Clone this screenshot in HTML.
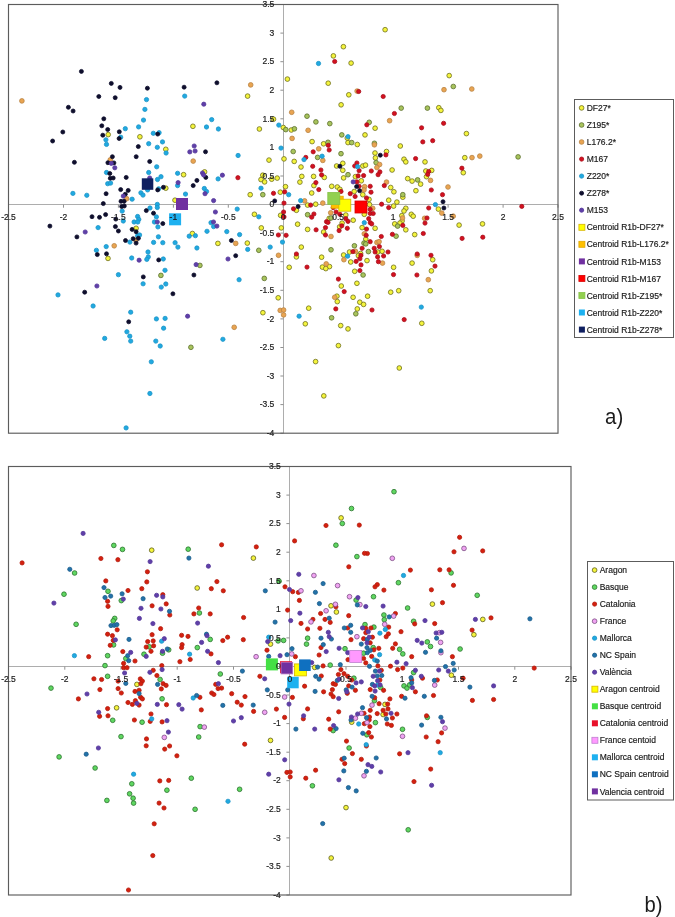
<!DOCTYPE html>
<html><head><meta charset="utf-8"><title>Figure</title>
<style>
html,body{margin:0;padding:0;background:#fff;}
body{width:675px;height:917px;overflow:hidden;}
svg{display:block;}
text{font-family:"Liberation Sans",sans-serif;fill:#1c1c1c;}
.tk text,.lg text{stroke:#1c1c1c;stroke-width:0.18px;}
.tk text{font-size:8.5px;}
.lg text{font-size:8.5px;}
.big{font-size:21.5px;}
</style></head><body>
<svg width="675" height="917" viewBox="0 0 675 917">
<rect width="675" height="917" fill="#fff"/>

<g id="plot-a">
<g stroke="#909090" stroke-width="1" fill="none">
<line x1="8.5" y1="204.5" x2="558" y2="204.5" stroke="#adadad"/>
<line x1="283.5" y1="4.5" x2="283.5" y2="433.2" stroke="#adadad"/>
<line x1="8.5" y1="204.5" x2="8.5" y2="207.7"/>
<line x1="63.5" y1="204.5" x2="63.5" y2="207.7"/>
<line x1="118.4" y1="204.5" x2="118.4" y2="207.7"/>
<line x1="173.4" y1="204.5" x2="173.4" y2="207.7"/>
<line x1="228.3" y1="204.5" x2="228.3" y2="207.7"/>
<line x1="283.2" y1="204.5" x2="283.2" y2="207.7"/>
<line x1="338.2" y1="204.5" x2="338.2" y2="207.7"/>
<line x1="393.2" y1="204.5" x2="393.2" y2="207.7"/>
<line x1="448.1" y1="204.5" x2="448.1" y2="207.7"/>
<line x1="503.1" y1="204.5" x2="503.1" y2="207.7"/>
<line x1="558.0" y1="204.5" x2="558.0" y2="207.7"/>
<line x1="280.4" y1="4.5" x2="283.5" y2="4.5"/>
<line x1="280.4" y1="33.1" x2="283.5" y2="33.1"/>
<line x1="280.4" y1="61.7" x2="283.5" y2="61.7"/>
<line x1="280.4" y1="90.2" x2="283.5" y2="90.2"/>
<line x1="280.4" y1="118.8" x2="283.5" y2="118.8"/>
<line x1="280.4" y1="147.4" x2="283.5" y2="147.4"/>
<line x1="280.4" y1="176.0" x2="283.5" y2="176.0"/>
<line x1="280.4" y1="204.6" x2="283.5" y2="204.6"/>
<line x1="280.4" y1="233.1" x2="283.5" y2="233.1"/>
<line x1="280.4" y1="261.7" x2="283.5" y2="261.7"/>
<line x1="280.4" y1="290.3" x2="283.5" y2="290.3"/>
<line x1="280.4" y1="318.9" x2="283.5" y2="318.9"/>
<line x1="280.4" y1="347.5" x2="283.5" y2="347.5"/>
<line x1="280.4" y1="376.0" x2="283.5" y2="376.0"/>
<line x1="280.4" y1="404.6" x2="283.5" y2="404.6"/>
<line x1="280.4" y1="433.2" x2="283.5" y2="433.2"/>
</g>
<g fill="#f4f43c" stroke="#6e6e1e" stroke-width="0.8">
<circle cx="247.6" cy="96.1" r="2.35"/>
<circle cx="287.4" cy="79.1" r="2.35"/>
<circle cx="385.1" cy="29.7" r="2.35"/>
<circle cx="343.4" cy="46.7" r="2.35"/>
<circle cx="333.4" cy="55.9" r="2.35"/>
<circle cx="351.1" cy="63.1" r="2.35"/>
<circle cx="328.2" cy="83.2" r="2.35"/>
<circle cx="348.8" cy="94.8" r="2.35"/>
<circle cx="341.1" cy="104.8" r="2.35"/>
<circle cx="449.2" cy="75.6" r="2.35"/>
<circle cx="438.8" cy="107.7" r="2.35"/>
<circle cx="440.9" cy="110.4" r="2.35"/>
<circle cx="108.2" cy="134.6" r="2.35"/>
<circle cx="139.9" cy="136.8" r="2.35"/>
<circle cx="192.9" cy="126.3" r="2.35"/>
<circle cx="165.8" cy="149.3" r="2.35"/>
<circle cx="183.6" cy="174.7" r="2.35"/>
<circle cx="204.6" cy="171.9" r="2.35"/>
<circle cx="165.8" cy="188.2" r="2.35"/>
<circle cx="273.5" cy="119.2" r="2.35"/>
<circle cx="283.3" cy="127.5" r="2.35"/>
<circle cx="259.4" cy="129.0" r="2.35"/>
<circle cx="291.3" cy="130.0" r="2.35"/>
<circle cx="347.3" cy="138.1" r="2.35"/>
<circle cx="348.0" cy="142.6" r="2.35"/>
<circle cx="312.1" cy="141.6" r="2.35"/>
<circle cx="323.6" cy="143.8" r="2.35"/>
<circle cx="269.0" cy="160.1" r="2.35"/>
<circle cx="284.0" cy="158.9" r="2.35"/>
<circle cx="294.2" cy="161.4" r="2.35"/>
<circle cx="342.8" cy="163.3" r="2.35"/>
<circle cx="336.6" cy="166.0" r="2.35"/>
<circle cx="301.0" cy="167.0" r="2.35"/>
<circle cx="342.8" cy="170.3" r="2.35"/>
<circle cx="324.3" cy="177.4" r="2.35"/>
<circle cx="301.8" cy="176.4" r="2.35"/>
<circle cx="313.6" cy="176.4" r="2.35"/>
<circle cx="343.6" cy="177.9" r="2.35"/>
<circle cx="262.8" cy="175.2" r="2.35"/>
<circle cx="261.0" cy="179.6" r="2.35"/>
<circle cx="264.6" cy="181.9" r="2.35"/>
<circle cx="271.7" cy="179.2" r="2.35"/>
<circle cx="277.2" cy="178.1" r="2.35"/>
<circle cx="299.9" cy="182.1" r="2.35"/>
<circle cx="313.9" cy="185.6" r="2.35"/>
<circle cx="285.5" cy="186.7" r="2.35"/>
<circle cx="331.7" cy="186.3" r="2.35"/>
<circle cx="337.3" cy="187.0" r="2.35"/>
<circle cx="339.9" cy="189.3" r="2.35"/>
<circle cx="280.3" cy="192.2" r="2.35"/>
<circle cx="311.7" cy="193.0" r="2.35"/>
<circle cx="250.2" cy="194.7" r="2.35"/>
<circle cx="375.1" cy="128.2" r="2.35"/>
<circle cx="365.0" cy="134.9" r="2.35"/>
<circle cx="357.3" cy="144.5" r="2.35"/>
<circle cx="400.3" cy="146.0" r="2.35"/>
<circle cx="386.5" cy="151.5" r="2.35"/>
<circle cx="375.0" cy="153.0" r="2.35"/>
<circle cx="375.4" cy="157.9" r="2.35"/>
<circle cx="404.0" cy="159.2" r="2.35"/>
<circle cx="405.8" cy="161.9" r="2.35"/>
<circle cx="425.0" cy="161.9" r="2.35"/>
<circle cx="362.8" cy="166.0" r="2.35"/>
<circle cx="365.5" cy="165.1" r="2.35"/>
<circle cx="392.1" cy="170.0" r="2.35"/>
<circle cx="355.4" cy="176.7" r="2.35"/>
<circle cx="425.8" cy="171.0" r="2.35"/>
<circle cx="431.7" cy="170.4" r="2.35"/>
<circle cx="426.5" cy="176.7" r="2.35"/>
<circle cx="407.7" cy="178.6" r="2.35"/>
<circle cx="412.1" cy="181.1" r="2.35"/>
<circle cx="420.6" cy="184.1" r="2.35"/>
<circle cx="361.3" cy="180.8" r="2.35"/>
<circle cx="390.7" cy="187.5" r="2.35"/>
<circle cx="415.9" cy="190.7" r="2.35"/>
<circle cx="393.9" cy="191.8" r="2.35"/>
<circle cx="354.2" cy="191.5" r="2.35"/>
<circle cx="362.8" cy="194.7" r="2.35"/>
<circle cx="466.4" cy="133.6" r="2.35"/>
<circle cx="464.8" cy="157.7" r="2.35"/>
<circle cx="463.3" cy="172.7" r="2.35"/>
<circle cx="108.0" cy="258.4" r="2.35"/>
<circle cx="175.0" cy="200.2" r="2.35"/>
<circle cx="136.1" cy="228.3" r="2.35"/>
<circle cx="192.4" cy="233.5" r="2.35"/>
<circle cx="307.6" cy="205.1" r="2.35"/>
<circle cx="296.4" cy="210.3" r="2.35"/>
<circle cx="254.4" cy="214.3" r="2.35"/>
<circle cx="280.6" cy="215.3" r="2.35"/>
<circle cx="297.6" cy="224.2" r="2.35"/>
<circle cx="261.3" cy="227.9" r="2.35"/>
<circle cx="281.3" cy="227.9" r="2.35"/>
<circle cx="307.6" cy="229.4" r="2.35"/>
<circle cx="217.9" cy="243.4" r="2.35"/>
<circle cx="247.3" cy="243.1" r="2.35"/>
<circle cx="301.3" cy="247.1" r="2.35"/>
<circle cx="296.4" cy="256.9" r="2.35"/>
<circle cx="289.2" cy="267.3" r="2.35"/>
<circle cx="369.0" cy="199.4" r="2.35"/>
<circle cx="388.7" cy="200.2" r="2.35"/>
<circle cx="402.8" cy="197.2" r="2.35"/>
<circle cx="396.9" cy="202.1" r="2.35"/>
<circle cx="315.7" cy="204.2" r="2.35"/>
<circle cx="369.5" cy="204.6" r="2.35"/>
<circle cx="393.6" cy="206.1" r="2.35"/>
<circle cx="405.8" cy="208.3" r="2.35"/>
<circle cx="404.0" cy="211.0" r="2.35"/>
<circle cx="345.8" cy="215.0" r="2.35"/>
<circle cx="364.3" cy="214.3" r="2.35"/>
<circle cx="329.2" cy="218.4" r="2.35"/>
<circle cx="353.2" cy="220.2" r="2.35"/>
<circle cx="401.8" cy="215.7" r="2.35"/>
<circle cx="402.1" cy="220.9" r="2.35"/>
<circle cx="399.9" cy="223.1" r="2.35"/>
<circle cx="394.7" cy="223.9" r="2.35"/>
<circle cx="405.8" cy="229.8" r="2.35"/>
<circle cx="342.1" cy="223.1" r="2.35"/>
<circle cx="339.6" cy="226.9" r="2.35"/>
<circle cx="362.1" cy="227.6" r="2.35"/>
<circle cx="375.1" cy="228.3" r="2.35"/>
<circle cx="323.6" cy="232.0" r="2.35"/>
<circle cx="365.8" cy="239.1" r="2.35"/>
<circle cx="349.5" cy="252.0" r="2.35"/>
<circle cx="382.1" cy="251.3" r="2.35"/>
<circle cx="377.6" cy="252.0" r="2.35"/>
<circle cx="343.6" cy="255.0" r="2.35"/>
<circle cx="360.6" cy="253.5" r="2.35"/>
<circle cx="358.4" cy="255.7" r="2.35"/>
<circle cx="321.6" cy="257.2" r="2.35"/>
<circle cx="350.7" cy="262.0" r="2.35"/>
<circle cx="367.0" cy="260.6" r="2.35"/>
<circle cx="322.4" cy="267.1" r="2.35"/>
<circle cx="329.5" cy="266.6" r="2.35"/>
<circle cx="325.8" cy="268.6" r="2.35"/>
<circle cx="393.6" cy="267.3" r="2.35"/>
<circle cx="354.7" cy="271.3" r="2.35"/>
<circle cx="438.4" cy="209.1" r="2.35"/>
<circle cx="411.3" cy="214.3" r="2.35"/>
<circle cx="413.2" cy="216.2" r="2.35"/>
<circle cx="459.1" cy="225.1" r="2.35"/>
<circle cx="482.5" cy="223.9" r="2.35"/>
<circle cx="414.7" cy="234.6" r="2.35"/>
<circle cx="432.7" cy="259.7" r="2.35"/>
<circle cx="412.1" cy="263.1" r="2.35"/>
<circle cx="431.4" cy="270.9" r="2.35"/>
<circle cx="278.2" cy="297.8" r="2.35"/>
<circle cx="262.9" cy="312.7" r="2.35"/>
<circle cx="308.7" cy="308.2" r="2.35"/>
<circle cx="305.3" cy="323.8" r="2.35"/>
<circle cx="341.3" cy="286.0" r="2.35"/>
<circle cx="356.9" cy="283.3" r="2.35"/>
<circle cx="336.9" cy="296.2" r="2.35"/>
<circle cx="337.3" cy="301.6" r="2.35"/>
<circle cx="353.1" cy="297.3" r="2.35"/>
<circle cx="340.7" cy="325.6" r="2.35"/>
<circle cx="348.0" cy="328.9" r="2.35"/>
<circle cx="357.3" cy="308.9" r="2.35"/>
<circle cx="338.4" cy="345.6" r="2.35"/>
<circle cx="315.6" cy="361.6" r="2.35"/>
<circle cx="390.7" cy="292.2" r="2.35"/>
<circle cx="398.7" cy="290.7" r="2.35"/>
<circle cx="430.2" cy="290.7" r="2.35"/>
<circle cx="367.6" cy="296.2" r="2.35"/>
<circle cx="359.8" cy="302.2" r="2.35"/>
<circle cx="363.6" cy="304.4" r="2.35"/>
<circle cx="421.8" cy="323.3" r="2.35"/>
<circle cx="399.3" cy="368.0" r="2.35"/>
<circle cx="323.8" cy="395.9" r="2.35"/>
</g>
<g fill="#a8c45c" stroke="#5c6e2c" stroke-width="0.8">
<circle cx="401.2" cy="108.1" r="2.35"/>
<circle cx="427.4" cy="108.1" r="2.35"/>
<circle cx="453.3" cy="86.5" r="2.35"/>
<circle cx="307.0" cy="116.2" r="2.35"/>
<circle cx="315.9" cy="121.9" r="2.35"/>
<circle cx="329.8" cy="123.6" r="2.35"/>
<circle cx="285.8" cy="129.6" r="2.35"/>
<circle cx="294.4" cy="128.8" r="2.35"/>
<circle cx="341.8" cy="134.9" r="2.35"/>
<circle cx="328.0" cy="142.3" r="2.35"/>
<circle cx="293.2" cy="151.5" r="2.35"/>
<circle cx="341.0" cy="153.7" r="2.35"/>
<circle cx="317.6" cy="157.4" r="2.35"/>
<circle cx="348.0" cy="174.7" r="2.35"/>
<circle cx="262.8" cy="194.7" r="2.35"/>
<circle cx="369.2" cy="122.3" r="2.35"/>
<circle cx="351.7" cy="142.6" r="2.35"/>
<circle cx="374.4" cy="143.3" r="2.35"/>
<circle cx="376.1" cy="162.6" r="2.35"/>
<circle cx="417.6" cy="179.9" r="2.35"/>
<circle cx="402.8" cy="194.7" r="2.35"/>
<circle cx="518.1" cy="156.9" r="2.35"/>
<circle cx="199.9" cy="265.4" r="2.35"/>
<circle cx="160.9" cy="275.4" r="2.35"/>
<circle cx="307.6" cy="214.7" r="2.35"/>
<circle cx="258.8" cy="250.3" r="2.35"/>
<circle cx="264.3" cy="278.4" r="2.35"/>
<circle cx="331.0" cy="218.0" r="2.35"/>
<circle cx="397.6" cy="226.1" r="2.35"/>
<circle cx="396.1" cy="236.2" r="2.35"/>
<circle cx="364.0" cy="243.1" r="2.35"/>
<circle cx="365.8" cy="243.9" r="2.35"/>
<circle cx="354.4" cy="245.8" r="2.35"/>
<circle cx="331.0" cy="249.8" r="2.35"/>
<circle cx="368.4" cy="251.6" r="2.35"/>
<circle cx="363.1" cy="275.0" r="2.35"/>
<circle cx="190.9" cy="347.3" r="2.35"/>
<circle cx="331.6" cy="317.8" r="2.35"/>
<circle cx="355.8" cy="313.8" r="2.35"/>
</g>
<g fill="#e9a451" stroke="#b98445" stroke-width="0.8">
<circle cx="21.9" cy="100.9" r="2.35"/>
<circle cx="250.7" cy="84.9" r="2.35"/>
<circle cx="357.1" cy="91.1" r="2.35"/>
<circle cx="291.7" cy="112.3" r="2.35"/>
<circle cx="444.0" cy="89.7" r="2.35"/>
<circle cx="471.8" cy="89.0" r="2.35"/>
<circle cx="110.3" cy="159.8" r="2.35"/>
<circle cx="126.6" cy="198.7" r="2.35"/>
<circle cx="193.2" cy="161.1" r="2.35"/>
<circle cx="308.1" cy="130.3" r="2.35"/>
<circle cx="292.1" cy="138.4" r="2.35"/>
<circle cx="318.7" cy="148.8" r="2.35"/>
<circle cx="322.8" cy="160.4" r="2.35"/>
<circle cx="389.6" cy="120.7" r="2.35"/>
<circle cx="374.4" cy="144.8" r="2.35"/>
<circle cx="379.6" cy="164.5" r="2.35"/>
<circle cx="376.9" cy="167.5" r="2.35"/>
<circle cx="430.5" cy="180.4" r="2.35"/>
<circle cx="386.5" cy="182.1" r="2.35"/>
<circle cx="364.6" cy="186.7" r="2.35"/>
<circle cx="364.0" cy="190.0" r="2.35"/>
<circle cx="448.0" cy="187.0" r="2.35"/>
<circle cx="472.0" cy="157.6" r="2.35"/>
<circle cx="479.8" cy="156.1" r="2.35"/>
<circle cx="135.9" cy="240.2" r="2.35"/>
<circle cx="114.2" cy="245.8" r="2.35"/>
<circle cx="304.6" cy="200.9" r="2.35"/>
<circle cx="235.7" cy="243.4" r="2.35"/>
<circle cx="278.5" cy="255.3" r="2.35"/>
<circle cx="322.8" cy="203.1" r="2.35"/>
<circle cx="372.7" cy="208.3" r="2.35"/>
<circle cx="330.7" cy="212.8" r="2.35"/>
<circle cx="402.5" cy="218.0" r="2.35"/>
<circle cx="331.0" cy="236.5" r="2.35"/>
<circle cx="364.3" cy="233.8" r="2.35"/>
<circle cx="376.9" cy="242.4" r="2.35"/>
<circle cx="379.1" cy="241.7" r="2.35"/>
<circle cx="355.4" cy="251.3" r="2.35"/>
<circle cx="343.9" cy="259.7" r="2.35"/>
<circle cx="382.5" cy="263.1" r="2.35"/>
<circle cx="326.2" cy="263.9" r="2.35"/>
<circle cx="441.8" cy="213.1" r="2.35"/>
<circle cx="424.6" cy="218.3" r="2.35"/>
<circle cx="453.2" cy="216.2" r="2.35"/>
<circle cx="417.2" cy="255.4" r="2.35"/>
<circle cx="428.3" cy="279.7" r="2.35"/>
<circle cx="280.2" cy="310.4" r="2.35"/>
<circle cx="283.6" cy="310.0" r="2.35"/>
<circle cx="283.6" cy="314.9" r="2.35"/>
<circle cx="234.2" cy="327.3" r="2.35"/>
<circle cx="334.7" cy="297.3" r="2.35"/>
</g>
<g fill="#d3101f" stroke="#a80f1a" stroke-width="0.8">
<circle cx="334.7" cy="61.5" r="2.1"/>
<circle cx="358.7" cy="91.5" r="2.1"/>
<circle cx="383.2" cy="96.5" r="2.1"/>
<circle cx="394.4" cy="113.5" r="2.1"/>
<circle cx="237.9" cy="177.7" r="2.1"/>
<circle cx="328.3" cy="145.3" r="2.1"/>
<circle cx="329.2" cy="150.0" r="2.1"/>
<circle cx="313.2" cy="151.8" r="2.1"/>
<circle cx="305.8" cy="157.4" r="2.1"/>
<circle cx="312.7" cy="166.3" r="2.1"/>
<circle cx="320.9" cy="170.0" r="2.1"/>
<circle cx="321.6" cy="174.9" r="2.1"/>
<circle cx="315.9" cy="182.6" r="2.1"/>
<circle cx="318.8" cy="189.6" r="2.1"/>
<circle cx="341.0" cy="191.5" r="2.1"/>
<circle cx="273.5" cy="193.3" r="2.1"/>
<circle cx="284.7" cy="191.9" r="2.1"/>
<circle cx="366.8" cy="124.8" r="2.1"/>
<circle cx="443.6" cy="123.3" r="2.1"/>
<circle cx="421.6" cy="127.8" r="2.1"/>
<circle cx="422.8" cy="141.9" r="2.1"/>
<circle cx="432.7" cy="140.7" r="2.1"/>
<circle cx="385.9" cy="154.9" r="2.1"/>
<circle cx="415.6" cy="158.6" r="2.1"/>
<circle cx="356.9" cy="163.0" r="2.1"/>
<circle cx="354.7" cy="166.0" r="2.1"/>
<circle cx="359.1" cy="170.7" r="2.1"/>
<circle cx="371.3" cy="171.0" r="2.1"/>
<circle cx="379.9" cy="171.9" r="2.1"/>
<circle cx="378.1" cy="174.7" r="2.1"/>
<circle cx="358.1" cy="175.9" r="2.1"/>
<circle cx="363.6" cy="175.6" r="2.1"/>
<circle cx="428.7" cy="171.5" r="2.1"/>
<circle cx="427.7" cy="174.4" r="2.1"/>
<circle cx="356.9" cy="181.9" r="2.1"/>
<circle cx="384.3" cy="185.6" r="2.1"/>
<circle cx="370.2" cy="186.3" r="2.1"/>
<circle cx="359.1" cy="186.3" r="2.1"/>
<circle cx="431.3" cy="190.0" r="2.1"/>
<circle cx="371.0" cy="192.2" r="2.1"/>
<circle cx="350.2" cy="193.7" r="2.1"/>
<circle cx="442.5" cy="194.7" r="2.1"/>
<circle cx="461.9" cy="168.2" r="2.1"/>
<circle cx="284.0" cy="203.1" r="2.1"/>
<circle cx="293.5" cy="208.8" r="2.1"/>
<circle cx="283.6" cy="212.0" r="2.1"/>
<circle cx="284.0" cy="216.9" r="2.1"/>
<circle cx="278.4" cy="235.0" r="2.1"/>
<circle cx="286.1" cy="235.3" r="2.1"/>
<circle cx="296.4" cy="254.0" r="2.1"/>
<circle cx="307.0" cy="267.1" r="2.1"/>
<circle cx="355.1" cy="196.5" r="2.1"/>
<circle cx="366.5" cy="198.0" r="2.1"/>
<circle cx="310.7" cy="205.1" r="2.1"/>
<circle cx="381.6" cy="204.2" r="2.1"/>
<circle cx="388.7" cy="207.6" r="2.1"/>
<circle cx="370.2" cy="209.4" r="2.1"/>
<circle cx="333.2" cy="207.6" r="2.1"/>
<circle cx="313.9" cy="214.0" r="2.1"/>
<circle cx="311.7" cy="217.2" r="2.1"/>
<circle cx="336.1" cy="212.0" r="2.1"/>
<circle cx="339.9" cy="214.3" r="2.1"/>
<circle cx="370.2" cy="213.5" r="2.1"/>
<circle cx="373.2" cy="213.5" r="2.1"/>
<circle cx="326.5" cy="221.7" r="2.1"/>
<circle cx="328.0" cy="222.4" r="2.1"/>
<circle cx="345.8" cy="218.7" r="2.1"/>
<circle cx="348.0" cy="221.4" r="2.1"/>
<circle cx="368.7" cy="218.7" r="2.1"/>
<circle cx="370.2" cy="222.7" r="2.1"/>
<circle cx="371.7" cy="223.9" r="2.1"/>
<circle cx="402.8" cy="225.4" r="2.1"/>
<circle cx="341.8" cy="225.8" r="2.1"/>
<circle cx="347.3" cy="228.3" r="2.1"/>
<circle cx="339.1" cy="230.6" r="2.1"/>
<circle cx="366.5" cy="229.1" r="2.1"/>
<circle cx="325.5" cy="227.6" r="2.1"/>
<circle cx="325.5" cy="235.0" r="2.1"/>
<circle cx="316.1" cy="229.8" r="2.1"/>
<circle cx="366.2" cy="235.3" r="2.1"/>
<circle cx="381.3" cy="236.5" r="2.1"/>
<circle cx="392.4" cy="234.3" r="2.1"/>
<circle cx="370.2" cy="241.7" r="2.1"/>
<circle cx="362.1" cy="248.3" r="2.1"/>
<circle cx="379.4" cy="246.6" r="2.1"/>
<circle cx="374.2" cy="248.3" r="2.1"/>
<circle cx="352.9" cy="251.6" r="2.1"/>
<circle cx="375.1" cy="252.0" r="2.1"/>
<circle cx="388.0" cy="252.0" r="2.1"/>
<circle cx="360.9" cy="255.4" r="2.1"/>
<circle cx="383.6" cy="256.0" r="2.1"/>
<circle cx="377.6" cy="256.9" r="2.1"/>
<circle cx="359.9" cy="258.7" r="2.1"/>
<circle cx="356.1" cy="261.4" r="2.1"/>
<circle cx="378.4" cy="261.7" r="2.1"/>
<circle cx="361.0" cy="264.9" r="2.1"/>
<circle cx="359.9" cy="270.6" r="2.1"/>
<circle cx="393.5" cy="274.6" r="2.1"/>
<circle cx="338.4" cy="279.1" r="2.1"/>
<circle cx="428.7" cy="208.0" r="2.1"/>
<circle cx="427.0" cy="218.0" r="2.1"/>
<circle cx="425.0" cy="223.1" r="2.1"/>
<circle cx="423.3" cy="233.5" r="2.1"/>
<circle cx="462.1" cy="238.4" r="2.1"/>
<circle cx="482.8" cy="237.2" r="2.1"/>
<circle cx="417.2" cy="254.0" r="2.1"/>
<circle cx="431.0" cy="255.3" r="2.1"/>
<circle cx="435.0" cy="266.1" r="2.1"/>
<circle cx="416.9" cy="275.0" r="2.1"/>
<circle cx="344.2" cy="291.6" r="2.1"/>
<circle cx="335.8" cy="308.9" r="2.1"/>
<circle cx="372.0" cy="310.0" r="2.1"/>
<circle cx="404.2" cy="319.6" r="2.1"/>
<circle cx="521.8" cy="206.4" r="2.1"/>
</g>
<g fill="#20a9e1" stroke="#1c94c6" stroke-width="0.8">
<circle cx="146.5" cy="99.6" r="2.15"/>
<circle cx="144.9" cy="109.4" r="2.15"/>
<circle cx="184.7" cy="96.1" r="2.15"/>
<circle cx="318.5" cy="63.5" r="2.15"/>
<circle cx="72.9" cy="193.4" r="2.15"/>
<circle cx="86.8" cy="195.3" r="2.15"/>
<circle cx="105.9" cy="139.8" r="2.15"/>
<circle cx="106.5" cy="144.4" r="2.15"/>
<circle cx="125.3" cy="128.7" r="2.15"/>
<circle cx="120.7" cy="137.2" r="2.15"/>
<circle cx="143.5" cy="120.1" r="2.15"/>
<circle cx="138.6" cy="126.9" r="2.15"/>
<circle cx="153.3" cy="133.3" r="2.15"/>
<circle cx="148.7" cy="143.7" r="2.15"/>
<circle cx="157.3" cy="147.3" r="2.15"/>
<circle cx="156.7" cy="166.8" r="2.15"/>
<circle cx="106.5" cy="172.5" r="2.15"/>
<circle cx="107.7" cy="183.7" r="2.15"/>
<circle cx="110.6" cy="183.1" r="2.15"/>
<circle cx="148.7" cy="172.5" r="2.15"/>
<circle cx="157.5" cy="179.5" r="2.15"/>
<circle cx="132.1" cy="199.2" r="2.15"/>
<circle cx="140.9" cy="192.8" r="2.15"/>
<circle cx="143.0" cy="195.1" r="2.15"/>
<circle cx="147.6" cy="189.9" r="2.15"/>
<circle cx="150.0" cy="208.0" r="2.15"/>
<circle cx="122.2" cy="211.1" r="2.15"/>
<circle cx="123.3" cy="221.0" r="2.15"/>
<circle cx="137.6" cy="216.5" r="2.15"/>
<circle cx="138.8" cy="219.4" r="2.15"/>
<circle cx="134.1" cy="222.0" r="2.15"/>
<circle cx="137.8" cy="222.0" r="2.15"/>
<circle cx="157.3" cy="204.4" r="2.15"/>
<circle cx="157.3" cy="207.5" r="2.15"/>
<circle cx="156.4" cy="216.9" r="2.15"/>
<circle cx="154.4" cy="222.0" r="2.15"/>
<circle cx="211.7" cy="119.6" r="2.15"/>
<circle cx="206.5" cy="127.0" r="2.15"/>
<circle cx="218.4" cy="129.0" r="2.15"/>
<circle cx="159.1" cy="132.7" r="2.15"/>
<circle cx="162.5" cy="141.9" r="2.15"/>
<circle cx="166.1" cy="153.0" r="2.15"/>
<circle cx="238.1" cy="155.5" r="2.15"/>
<circle cx="177.6" cy="173.3" r="2.15"/>
<circle cx="161.0" cy="176.7" r="2.15"/>
<circle cx="218.1" cy="178.9" r="2.15"/>
<circle cx="177.6" cy="185.6" r="2.15"/>
<circle cx="158.7" cy="188.8" r="2.15"/>
<circle cx="185.5" cy="194.1" r="2.15"/>
<circle cx="204.3" cy="188.5" r="2.15"/>
<circle cx="206.5" cy="191.5" r="2.15"/>
<circle cx="278.8" cy="125.1" r="2.15"/>
<circle cx="348.0" cy="136.7" r="2.15"/>
<circle cx="281.0" cy="148.1" r="2.15"/>
<circle cx="322.1" cy="156.2" r="2.15"/>
<circle cx="304.0" cy="159.6" r="2.15"/>
<circle cx="261.0" cy="188.2" r="2.15"/>
<circle cx="288.7" cy="194.7" r="2.15"/>
<circle cx="357.6" cy="166.7" r="2.15"/>
<circle cx="98.1" cy="227.6" r="2.15"/>
<circle cx="106.2" cy="246.6" r="2.15"/>
<circle cx="96.4" cy="250.3" r="2.15"/>
<circle cx="157.9" cy="226.9" r="2.15"/>
<circle cx="137.6" cy="235.7" r="2.15"/>
<circle cx="139.6" cy="235.0" r="2.15"/>
<circle cx="129.9" cy="242.1" r="2.15"/>
<circle cx="158.4" cy="236.8" r="2.15"/>
<circle cx="153.6" cy="242.4" r="2.15"/>
<circle cx="162.8" cy="242.7" r="2.15"/>
<circle cx="175.1" cy="242.7" r="2.15"/>
<circle cx="177.9" cy="247.1" r="2.15"/>
<circle cx="189.2" cy="236.2" r="2.15"/>
<circle cx="195.4" cy="235.7" r="2.15"/>
<circle cx="207.0" cy="231.3" r="2.15"/>
<circle cx="196.9" cy="248.0" r="2.15"/>
<circle cx="131.7" cy="258.0" r="2.15"/>
<circle cx="148.0" cy="252.0" r="2.15"/>
<circle cx="148.3" cy="256.9" r="2.15"/>
<circle cx="146.8" cy="259.4" r="2.15"/>
<circle cx="163.3" cy="259.0" r="2.15"/>
<circle cx="165.0" cy="270.3" r="2.15"/>
<circle cx="118.4" cy="274.7" r="2.15"/>
<circle cx="300.6" cy="200.6" r="2.15"/>
<circle cx="237.2" cy="209.1" r="2.15"/>
<circle cx="258.8" cy="216.8" r="2.15"/>
<circle cx="211.0" cy="222.7" r="2.15"/>
<circle cx="213.6" cy="226.6" r="2.15"/>
<circle cx="226.8" cy="231.6" r="2.15"/>
<circle cx="239.6" cy="234.6" r="2.15"/>
<circle cx="282.5" cy="242.1" r="2.15"/>
<circle cx="270.2" cy="247.1" r="2.15"/>
<circle cx="247.7" cy="249.4" r="2.15"/>
<circle cx="239.1" cy="279.7" r="2.15"/>
<circle cx="364.3" cy="222.7" r="2.15"/>
<circle cx="347.6" cy="256.2" r="2.15"/>
<circle cx="435.4" cy="204.6" r="2.15"/>
<circle cx="58.0" cy="294.9" r="2.15"/>
<circle cx="143.1" cy="283.8" r="2.15"/>
<circle cx="161.3" cy="287.1" r="2.15"/>
<circle cx="165.8" cy="284.0" r="2.15"/>
<circle cx="93.1" cy="306.0" r="2.15"/>
<circle cx="130.7" cy="312.2" r="2.15"/>
<circle cx="156.4" cy="318.9" r="2.15"/>
<circle cx="165.1" cy="318.4" r="2.15"/>
<circle cx="163.6" cy="328.2" r="2.15"/>
<circle cx="126.9" cy="331.8" r="2.15"/>
<circle cx="129.8" cy="336.2" r="2.15"/>
<circle cx="130.7" cy="341.1" r="2.15"/>
<circle cx="104.7" cy="338.4" r="2.15"/>
<circle cx="155.8" cy="341.1" r="2.15"/>
<circle cx="160.2" cy="346.0" r="2.15"/>
<circle cx="151.3" cy="361.8" r="2.15"/>
<circle cx="299.1" cy="316.2" r="2.15"/>
<circle cx="222.9" cy="339.3" r="2.15"/>
<circle cx="421.3" cy="307.1" r="2.15"/>
<circle cx="149.9" cy="393.5" r="2.15"/>
<circle cx="126.1" cy="427.9" r="2.15"/>
</g>
<g fill="#0e0e2c" stroke="#0e0e2c" stroke-width="0.8">
<circle cx="81.4" cy="71.4" r="2.0"/>
<circle cx="111.3" cy="83.4" r="2.0"/>
<circle cx="120.0" cy="87.4" r="2.0"/>
<circle cx="98.8" cy="96.5" r="2.0"/>
<circle cx="115.2" cy="97.7" r="2.0"/>
<circle cx="68.4" cy="107.3" r="2.0"/>
<circle cx="73.1" cy="111.0" r="2.0"/>
<circle cx="147.4" cy="88.2" r="2.0"/>
<circle cx="184.1" cy="87.2" r="2.0"/>
<circle cx="216.9" cy="82.8" r="2.0"/>
<circle cx="62.8" cy="132.0" r="2.0"/>
<circle cx="52.6" cy="141.0" r="2.0"/>
<circle cx="74.4" cy="162.3" r="2.0"/>
<circle cx="92.0" cy="216.7" r="2.0"/>
<circle cx="99.5" cy="217.3" r="2.0"/>
<circle cx="103.8" cy="118.8" r="2.0"/>
<circle cx="101.8" cy="125.8" r="2.0"/>
<circle cx="107.7" cy="129.5" r="2.0"/>
<circle cx="102.8" cy="135.2" r="2.0"/>
<circle cx="119.3" cy="131.8" r="2.0"/>
<circle cx="119.1" cy="138.5" r="2.0"/>
<circle cx="157.7" cy="134.1" r="2.0"/>
<circle cx="138.3" cy="146.6" r="2.0"/>
<circle cx="136.2" cy="156.7" r="2.0"/>
<circle cx="149.7" cy="161.5" r="2.0"/>
<circle cx="112.4" cy="156.7" r="2.0"/>
<circle cx="107.9" cy="162.7" r="2.0"/>
<circle cx="113.9" cy="162.9" r="2.0"/>
<circle cx="109.8" cy="173.5" r="2.0"/>
<circle cx="110.3" cy="178.3" r="2.0"/>
<circle cx="113.2" cy="178.0" r="2.0"/>
<circle cx="126.2" cy="177.4" r="2.0"/>
<circle cx="120.7" cy="189.6" r="2.0"/>
<circle cx="128.2" cy="190.4" r="2.0"/>
<circle cx="106.1" cy="193.7" r="2.0"/>
<circle cx="125.3" cy="194.2" r="2.0"/>
<circle cx="121.0" cy="201.3" r="2.0"/>
<circle cx="124.1" cy="201.3" r="2.0"/>
<circle cx="103.3" cy="203.6" r="2.0"/>
<circle cx="121.7" cy="206.5" r="2.0"/>
<circle cx="124.3" cy="206.0" r="2.0"/>
<circle cx="146.3" cy="210.6" r="2.0"/>
<circle cx="153.5" cy="213.2" r="2.0"/>
<circle cx="105.6" cy="214.6" r="2.0"/>
<circle cx="115.8" cy="219.1" r="2.0"/>
<circle cx="157.7" cy="189.9" r="2.0"/>
<circle cx="205.5" cy="151.8" r="2.0"/>
<circle cx="205.8" cy="177.4" r="2.0"/>
<circle cx="196.9" cy="180.4" r="2.0"/>
<circle cx="193.2" cy="185.6" r="2.0"/>
<circle cx="163.4" cy="187.3" r="2.0"/>
<circle cx="339.9" cy="166.3" r="2.0"/>
<circle cx="380.3" cy="155.2" r="2.0"/>
<circle cx="356.6" cy="186.6" r="2.0"/>
<circle cx="359.6" cy="190.7" r="2.0"/>
<circle cx="49.9" cy="226.1" r="2.0"/>
<circle cx="76.9" cy="236.9" r="2.0"/>
<circle cx="97.3" cy="254.6" r="2.0"/>
<circle cx="106.5" cy="253.8" r="2.0"/>
<circle cx="162.8" cy="223.6" r="2.0"/>
<circle cx="115.4" cy="226.6" r="2.0"/>
<circle cx="118.4" cy="231.0" r="2.0"/>
<circle cx="132.1" cy="229.4" r="2.0"/>
<circle cx="136.1" cy="231.7" r="2.0"/>
<circle cx="133.2" cy="238.7" r="2.0"/>
<circle cx="138.4" cy="238.3" r="2.0"/>
<circle cx="125.5" cy="240.5" r="2.0"/>
<circle cx="136.1" cy="243.1" r="2.0"/>
<circle cx="158.7" cy="259.9" r="2.0"/>
<circle cx="143.3" cy="276.9" r="2.0"/>
<circle cx="193.9" cy="275.0" r="2.0"/>
<circle cx="274.7" cy="200.9" r="2.0"/>
<circle cx="298.1" cy="206.6" r="2.0"/>
<circle cx="231.4" cy="240.5" r="2.0"/>
<circle cx="235.7" cy="255.7" r="2.0"/>
<circle cx="443.0" cy="201.7" r="2.0"/>
<circle cx="443.9" cy="208.0" r="2.0"/>
<circle cx="84.7" cy="292.2" r="2.0"/>
<circle cx="172.9" cy="293.8" r="2.0"/>
<circle cx="128.7" cy="321.8" r="2.0"/>
</g>
<g fill="#5f3fa8" stroke="#55389a" stroke-width="0.8">
<circle cx="203.8" cy="104.2" r="2.1"/>
<circle cx="111.3" cy="163.4" r="2.1"/>
<circle cx="114.8" cy="167.8" r="2.1"/>
<circle cx="149.7" cy="178.0" r="2.1"/>
<circle cx="123.3" cy="196.1" r="2.1"/>
<circle cx="157.3" cy="222.0" r="2.1"/>
<circle cx="194.2" cy="146.0" r="2.1"/>
<circle cx="189.8" cy="151.9" r="2.1"/>
<circle cx="195.1" cy="151.0" r="2.1"/>
<circle cx="202.5" cy="173.0" r="2.1"/>
<circle cx="203.6" cy="174.9" r="2.1"/>
<circle cx="222.4" cy="175.2" r="2.1"/>
<circle cx="178.1" cy="182.6" r="2.1"/>
<circle cx="205.0" cy="193.7" r="2.1"/>
<circle cx="353.2" cy="181.9" r="2.1"/>
<circle cx="85.2" cy="232.0" r="2.1"/>
<circle cx="139.1" cy="260.2" r="2.1"/>
<circle cx="196.1" cy="264.6" r="2.1"/>
<circle cx="213.6" cy="200.6" r="2.1"/>
<circle cx="215.4" cy="212.0" r="2.1"/>
<circle cx="213.5" cy="222.0" r="2.1"/>
<circle cx="216.9" cy="226.1" r="2.1"/>
<circle cx="228.0" cy="259.0" r="2.1"/>
<circle cx="96.9" cy="286.0" r="2.1"/>
<circle cx="187.6" cy="316.2" r="2.1"/>
</g>
<g>
<rect x="331.2" y="196.2" width="12" height="12" fill="#ffc000" stroke="#e0a800" stroke-width="0.8"/>
<rect x="338.8" y="199.2" width="12" height="12" fill="#ffff00" stroke="#d8b400" stroke-width="0.8"/>
<rect x="176.0" y="198.0" width="12" height="12" fill="#7030a0"/>
<rect x="355.0" y="201.0" width="12" height="12" fill="#ff0000" stroke="#d80000" stroke-width="0.8"/>
<rect x="327.8" y="192.4" width="12" height="12" fill="#92d050" stroke="#86c248" stroke-width="0.8"/>
<rect x="169.1" y="213.3" width="12" height="12" fill="#1eb1f0"/>
<rect x="141.8" y="178.3" width="11.5" height="11.5" fill="#0f1f60"/>
</g>
<rect x="8.5" y="4.5" width="549.5" height="428.7" fill="none" stroke="#5c5c5c" stroke-width="1.15"/>
<g class="tk"><text x="8.5" y="219.7" text-anchor="middle">-2.5</text>
<text x="63.5" y="219.7" text-anchor="middle">-2</text>
<text x="118.4" y="219.7" text-anchor="middle">-1.5</text>
<text x="173.4" y="219.7" text-anchor="middle">-1</text>
<text x="228.3" y="219.7" text-anchor="middle">-0.5</text>
<text x="283.2" y="219.7" text-anchor="middle">0</text>
<text x="338.2" y="219.7" text-anchor="middle">0.5</text>
<text x="393.2" y="219.7" text-anchor="middle">1</text>
<text x="448.1" y="219.7" text-anchor="middle">1.5</text>
<text x="503.1" y="219.7" text-anchor="middle">2</text>
<text x="558.0" y="219.7" text-anchor="middle">2.5</text>
<text x="274.3" y="7.2" text-anchor="end">3.5</text>
<text x="274.3" y="35.8" text-anchor="end">3</text>
<text x="274.3" y="64.4" text-anchor="end">2.5</text>
<text x="274.3" y="92.9" text-anchor="end">2</text>
<text x="274.3" y="121.5" text-anchor="end">1.5</text>
<text x="274.3" y="150.1" text-anchor="end">1</text>
<text x="274.3" y="178.7" text-anchor="end">0.5</text>
<text x="274.3" y="207.3" text-anchor="end">0</text>
<text x="274.3" y="235.8" text-anchor="end">-0.5</text>
<text x="274.3" y="264.4" text-anchor="end">-1</text>
<text x="274.3" y="293.0" text-anchor="end">-1.5</text>
<text x="274.3" y="321.6" text-anchor="end">-2</text>
<text x="274.3" y="350.2" text-anchor="end">-2.5</text>
<text x="274.3" y="378.7" text-anchor="end">-3</text>
<text x="274.3" y="407.3" text-anchor="end">-3.5</text>
<text x="274.3" y="435.9" text-anchor="end">-4</text></g>
</g>
<g class="lg" id="legend-a">
<rect x="574.5" y="99.5" width="99" height="238" fill="#fff" stroke="#5c5c5c" stroke-width="1"/>
<circle cx="581.6" cy="107.9" r="2.35" fill="#f4f43c" stroke="#6e6e1e" stroke-width="0.8"/>
<text x="586.7" y="111.0">DF27*</text>
<circle cx="581.6" cy="125.0" r="2.35" fill="#a8c45c" stroke="#5c6e2c" stroke-width="0.8"/>
<text x="586.7" y="128.1">Z195*</text>
<circle cx="581.6" cy="142.0" r="2.35" fill="#e9a451" stroke="#b98445" stroke-width="0.8"/>
<text x="586.7" y="145.1">L176.2*</text>
<circle cx="581.6" cy="159.1" r="2.1" fill="#d3101f" stroke="#a80f1a" stroke-width="0.8"/>
<text x="586.7" y="162.2">M167</text>
<circle cx="581.6" cy="176.1" r="2.15" fill="#20a9e1" stroke="#1c94c6" stroke-width="0.8"/>
<text x="586.7" y="179.2">Z220*</text>
<circle cx="581.6" cy="193.2" r="2.0" fill="#0e0e2c" stroke="#0e0e2c" stroke-width="0.8"/>
<text x="586.7" y="196.3">Z278*</text>
<circle cx="581.6" cy="210.2" r="2.1" fill="#5f3fa8" stroke="#55389a" stroke-width="0.8"/>
<text x="586.7" y="213.3">M153</text>
<rect x="578.9" y="224.3" width="6" height="6" fill="#ffff00" stroke="#d8b400" stroke-width="0.8"/>
<text x="586.7" y="230.4">Centroid R1b-DF27*</text>
<rect x="578.9" y="241.3" width="6" height="6" fill="#ffc000" stroke="#e0a800" stroke-width="0.8"/>
<text x="586.7" y="247.4">Centroid R1b-L176.2*</text>
<rect x="578.9" y="258.4" width="6" height="6" fill="#7030a0"/>
<text x="586.7" y="264.5">Centroid R1b-M153</text>
<rect x="578.9" y="275.4" width="6" height="6" fill="#ff0000" stroke="#d80000" stroke-width="0.8"/>
<text x="586.7" y="281.5">Centroid R1b-M167</text>
<rect x="578.9" y="292.5" width="6" height="6" fill="#92d050" stroke="#86c248" stroke-width="0.8"/>
<text x="586.7" y="298.6">Centroid R1b-Z195*</text>
<rect x="578.9" y="309.5" width="6" height="6" fill="#1eb1f0"/>
<text x="586.7" y="315.6">Centroid R1b-Z220*</text>
<rect x="578.9" y="326.6" width="6" height="6" fill="#0f1f60"/>
<text x="586.7" y="332.7">Centroid R1b-Z278*</text>
</g>
<text class="big" x="605" y="424.3" textLength="18.2" lengthAdjust="spacingAndGlyphs">a)</text>
<g id="plot-b">
<g stroke="#909090" stroke-width="1" fill="none">
<line x1="8.5" y1="666.5" x2="571" y2="666.5" stroke="#adadad"/>
<line x1="289.5" y1="466.5" x2="289.5" y2="895" stroke="#adadad"/>
<line x1="8.5" y1="666.5" x2="8.5" y2="669.7"/>
<line x1="64.8" y1="666.5" x2="64.8" y2="669.7"/>
<line x1="121.0" y1="666.5" x2="121.0" y2="669.7"/>
<line x1="177.2" y1="666.5" x2="177.2" y2="669.7"/>
<line x1="233.5" y1="666.5" x2="233.5" y2="669.7"/>
<line x1="289.8" y1="666.5" x2="289.8" y2="669.7"/>
<line x1="346.0" y1="666.5" x2="346.0" y2="669.7"/>
<line x1="402.2" y1="666.5" x2="402.2" y2="669.7"/>
<line x1="458.5" y1="666.5" x2="458.5" y2="669.7"/>
<line x1="514.8" y1="666.5" x2="514.8" y2="669.7"/>
<line x1="571.0" y1="666.5" x2="571.0" y2="669.7"/>
<line x1="286.4" y1="466.5" x2="289.5" y2="466.5"/>
<line x1="286.4" y1="495.1" x2="289.5" y2="495.1"/>
<line x1="286.4" y1="523.6" x2="289.5" y2="523.6"/>
<line x1="286.4" y1="552.2" x2="289.5" y2="552.2"/>
<line x1="286.4" y1="580.8" x2="289.5" y2="580.8"/>
<line x1="286.4" y1="609.3" x2="289.5" y2="609.3"/>
<line x1="286.4" y1="637.9" x2="289.5" y2="637.9"/>
<line x1="286.4" y1="666.5" x2="289.5" y2="666.5"/>
<line x1="286.4" y1="695.0" x2="289.5" y2="695.0"/>
<line x1="286.4" y1="723.6" x2="289.5" y2="723.6"/>
<line x1="286.4" y1="752.2" x2="289.5" y2="752.2"/>
<line x1="286.4" y1="780.7" x2="289.5" y2="780.7"/>
<line x1="286.4" y1="809.3" x2="289.5" y2="809.3"/>
<line x1="286.4" y1="837.9" x2="289.5" y2="837.9"/>
<line x1="286.4" y1="866.4" x2="289.5" y2="866.4"/>
<line x1="286.4" y1="895.0" x2="289.5" y2="895.0"/>
</g>
<g fill="#f4f43c" stroke="#5e5e1e" stroke-width="0.8">
<circle cx="151.7" cy="550.2" r="2.35"/>
<circle cx="253.4" cy="558.1" r="2.35"/>
<circle cx="341.1" cy="517.9" r="2.35"/>
<circle cx="197.2" cy="588.0" r="2.35"/>
<circle cx="270.5" cy="644.1" r="2.35"/>
<circle cx="331.0" cy="605.8" r="2.35"/>
<circle cx="336.4" cy="612.0" r="2.35"/>
<circle cx="432.4" cy="604.1" r="2.35"/>
<circle cx="482.8" cy="619.4" r="2.35"/>
<circle cx="473.9" cy="634.7" r="2.35"/>
<circle cx="136.9" cy="684.4" r="2.35"/>
<circle cx="116.6" cy="707.8" r="2.35"/>
<circle cx="270.5" cy="740.4" r="2.35"/>
<circle cx="314.7" cy="667.4" r="2.35"/>
<circle cx="385.0" cy="704.4" r="2.35"/>
<circle cx="383.1" cy="714.5" r="2.35"/>
<circle cx="351.7" cy="722.2" r="2.35"/>
<circle cx="451.4" cy="675.2" r="2.35"/>
<circle cx="346.0" cy="807.6" r="2.35"/>
<circle cx="331.2" cy="858.0" r="2.35"/>
</g>
<g fill="#5fd761" stroke="#2c742e" stroke-width="0.8">
<circle cx="113.8" cy="545.4" r="2.35"/>
<circle cx="122.5" cy="549.4" r="2.35"/>
<circle cx="74.6" cy="573.0" r="2.35"/>
<circle cx="188.2" cy="549.2" r="2.35"/>
<circle cx="394.0" cy="491.7" r="2.35"/>
<circle cx="351.5" cy="508.5" r="2.35"/>
<circle cx="342.3" cy="523.5" r="2.35"/>
<circle cx="335.9" cy="545.2" r="2.35"/>
<circle cx="356.9" cy="556.6" r="2.35"/>
<circle cx="451.1" cy="572.9" r="2.35"/>
<circle cx="108.0" cy="591.3" r="2.35"/>
<circle cx="64.0" cy="594.2" r="2.35"/>
<circle cx="76.1" cy="624.3" r="2.35"/>
<circle cx="107.6" cy="655.7" r="2.35"/>
<circle cx="121.3" cy="600.6" r="2.35"/>
<circle cx="199.4" cy="613.0" r="2.35"/>
<circle cx="114.7" cy="618.4" r="2.35"/>
<circle cx="113.2" cy="620.9" r="2.35"/>
<circle cx="113.6" cy="644.9" r="2.35"/>
<circle cx="149.2" cy="646.8" r="2.35"/>
<circle cx="197.3" cy="647.6" r="2.35"/>
<circle cx="168.7" cy="649.8" r="2.35"/>
<circle cx="162.5" cy="653.2" r="2.35"/>
<circle cx="144.0" cy="654.2" r="2.35"/>
<circle cx="279.1" cy="581.2" r="2.35"/>
<circle cx="210.2" cy="639.4" r="2.35"/>
<circle cx="278.1" cy="640.9" r="2.35"/>
<circle cx="283.6" cy="640.4" r="2.35"/>
<circle cx="307.6" cy="638.2" r="2.35"/>
<circle cx="306.5" cy="644.1" r="2.35"/>
<circle cx="398.4" cy="582.7" r="2.35"/>
<circle cx="373.5" cy="596.7" r="2.35"/>
<circle cx="356.1" cy="600.1" r="2.35"/>
<circle cx="407.6" cy="608.0" r="2.35"/>
<circle cx="383.9" cy="615.0" r="2.35"/>
<circle cx="384.3" cy="619.7" r="2.35"/>
<circle cx="365.0" cy="624.6" r="2.35"/>
<circle cx="373.9" cy="627.1" r="2.35"/>
<circle cx="345.0" cy="648.7" r="2.35"/>
<circle cx="363.6" cy="653.2" r="2.35"/>
<circle cx="373.2" cy="647.6" r="2.35"/>
<circle cx="399.6" cy="649.3" r="2.35"/>
<circle cx="402.8" cy="653.9" r="2.35"/>
<circle cx="477.2" cy="595.3" r="2.35"/>
<circle cx="413.6" cy="621.3" r="2.35"/>
<circle cx="427.3" cy="641.9" r="2.35"/>
<circle cx="430.5" cy="646.5" r="2.35"/>
<circle cx="460.1" cy="649.0" r="2.35"/>
<circle cx="105.0" cy="665.6" r="2.35"/>
<circle cx="107.6" cy="676.3" r="2.35"/>
<circle cx="51.0" cy="688.1" r="2.35"/>
<circle cx="125.8" cy="658.5" r="2.35"/>
<circle cx="160.1" cy="679.5" r="2.35"/>
<circle cx="162.1" cy="698.8" r="2.35"/>
<circle cx="112.7" cy="720.3" r="2.35"/>
<circle cx="142.1" cy="722.2" r="2.35"/>
<circle cx="200.1" cy="726.6" r="2.35"/>
<circle cx="121.0" cy="736.6" r="2.35"/>
<circle cx="198.7" cy="737.0" r="2.35"/>
<circle cx="220.3" cy="674.0" r="2.35"/>
<circle cx="330.2" cy="665.1" r="2.35"/>
<circle cx="353.9" cy="678.2" r="2.35"/>
<circle cx="380.6" cy="687.4" r="2.35"/>
<circle cx="404.0" cy="685.9" r="2.35"/>
<circle cx="407.0" cy="688.1" r="2.35"/>
<circle cx="374.4" cy="700.7" r="2.35"/>
<circle cx="375.4" cy="722.6" r="2.35"/>
<circle cx="333.2" cy="730.6" r="2.35"/>
<circle cx="366.8" cy="734.8" r="2.35"/>
<circle cx="402.5" cy="729.3" r="2.35"/>
<circle cx="413.6" cy="672.6" r="2.35"/>
<circle cx="427.3" cy="717.4" r="2.35"/>
<circle cx="59.1" cy="756.9" r="2.35"/>
<circle cx="95.1" cy="768.0" r="2.35"/>
<circle cx="131.8" cy="783.8" r="2.35"/>
<circle cx="191.3" cy="778.2" r="2.35"/>
<circle cx="166.9" cy="790.2" r="2.35"/>
<circle cx="129.6" cy="793.8" r="2.35"/>
<circle cx="133.1" cy="798.2" r="2.35"/>
<circle cx="133.6" cy="803.1" r="2.35"/>
<circle cx="106.9" cy="800.4" r="2.35"/>
<circle cx="195.1" cy="809.3" r="2.35"/>
<circle cx="312.4" cy="785.8" r="2.35"/>
<circle cx="239.6" cy="789.3" r="2.35"/>
<circle cx="349.1" cy="748.0" r="2.35"/>
<circle cx="408.2" cy="829.8" r="2.35"/>
<circle cx="409.6" cy="684.9" r="2.35"/>
</g>
<g fill="#d4200f" stroke="#b41a0c" stroke-width="0.8">
<circle cx="22.1" cy="562.9" r="2.1"/>
<circle cx="100.9" cy="558.5" r="2.1"/>
<circle cx="117.9" cy="559.7" r="2.1"/>
<circle cx="147.4" cy="571.8" r="2.1"/>
<circle cx="221.6" cy="544.8" r="2.1"/>
<circle cx="256.3" cy="546.9" r="2.1"/>
<circle cx="326.0" cy="525.5" r="2.1"/>
<circle cx="359.3" cy="525.1" r="2.1"/>
<circle cx="294.6" cy="540.9" r="2.1"/>
<circle cx="367.4" cy="553.5" r="2.1"/>
<circle cx="364.5" cy="553.3" r="2.1"/>
<circle cx="348.8" cy="566.8" r="2.1"/>
<circle cx="410.4" cy="570.1" r="2.1"/>
<circle cx="459.6" cy="537.3" r="2.1"/>
<circle cx="454.0" cy="551.8" r="2.1"/>
<circle cx="482.7" cy="550.9" r="2.1"/>
<circle cx="439.8" cy="569.8" r="2.1"/>
<circle cx="449.1" cy="569.8" r="2.1"/>
<circle cx="105.8" cy="580.9" r="2.1"/>
<circle cx="107.6" cy="601.3" r="2.1"/>
<circle cx="108.0" cy="606.4" r="2.1"/>
<circle cx="107.6" cy="634.2" r="2.1"/>
<circle cx="88.7" cy="656.7" r="2.1"/>
<circle cx="146.8" cy="581.9" r="2.1"/>
<circle cx="141.8" cy="588.7" r="2.1"/>
<circle cx="128.0" cy="590.5" r="2.1"/>
<circle cx="162.8" cy="594.7" r="2.1"/>
<circle cx="166.2" cy="603.9" r="2.1"/>
<circle cx="152.1" cy="605.8" r="2.1"/>
<circle cx="169.8" cy="615.0" r="2.1"/>
<circle cx="198.7" cy="608.0" r="2.1"/>
<circle cx="193.9" cy="613.9" r="2.1"/>
<circle cx="117.2" cy="629.8" r="2.1"/>
<circle cx="160.6" cy="628.7" r="2.1"/>
<circle cx="152.1" cy="634.7" r="2.1"/>
<circle cx="181.6" cy="635.3" r="2.1"/>
<circle cx="188.0" cy="636.4" r="2.1"/>
<circle cx="112.4" cy="635.7" r="2.1"/>
<circle cx="113.2" cy="640.4" r="2.1"/>
<circle cx="147.7" cy="641.6" r="2.1"/>
<circle cx="153.2" cy="640.9" r="2.1"/>
<circle cx="110.2" cy="645.3" r="2.1"/>
<circle cx="146.2" cy="647.1" r="2.1"/>
<circle cx="153.6" cy="645.8" r="2.1"/>
<circle cx="182.1" cy="644.6" r="2.1"/>
<circle cx="181.6" cy="647.6" r="2.1"/>
<circle cx="122.8" cy="651.6" r="2.1"/>
<circle cx="151.0" cy="651.3" r="2.1"/>
<circle cx="216.9" cy="581.6" r="2.1"/>
<circle cx="211.3" cy="588.7" r="2.1"/>
<circle cx="223.3" cy="590.8" r="2.1"/>
<circle cx="285.0" cy="586.8" r="2.1"/>
<circle cx="292.7" cy="591.7" r="2.1"/>
<circle cx="298.4" cy="592.4" r="2.1"/>
<circle cx="299.4" cy="600.4" r="2.1"/>
<circle cx="287.6" cy="610.1" r="2.1"/>
<circle cx="210.2" cy="613.9" r="2.1"/>
<circle cx="243.6" cy="617.5" r="2.1"/>
<circle cx="301.0" cy="623.4" r="2.1"/>
<circle cx="307.6" cy="629.0" r="2.1"/>
<circle cx="227.6" cy="637.2" r="2.1"/>
<circle cx="222.8" cy="640.6" r="2.1"/>
<circle cx="243.3" cy="639.7" r="2.1"/>
<circle cx="267.0" cy="650.2" r="2.1"/>
<circle cx="211.0" cy="653.9" r="2.1"/>
<circle cx="295.4" cy="656.7" r="2.1"/>
<circle cx="377.3" cy="584.6" r="2.1"/>
<circle cx="375.0" cy="586.8" r="2.1"/>
<circle cx="383.9" cy="590.1" r="2.1"/>
<circle cx="335.9" cy="606.8" r="2.1"/>
<circle cx="320.6" cy="613.5" r="2.1"/>
<circle cx="348.7" cy="615.7" r="2.1"/>
<circle cx="395.4" cy="613.5" r="2.1"/>
<circle cx="325.0" cy="619.4" r="2.1"/>
<circle cx="330.2" cy="622.4" r="2.1"/>
<circle cx="312.9" cy="619.4" r="2.1"/>
<circle cx="347.7" cy="628.0" r="2.1"/>
<circle cx="365.8" cy="628.3" r="2.1"/>
<circle cx="371.0" cy="628.0" r="2.1"/>
<circle cx="388.7" cy="627.1" r="2.1"/>
<circle cx="319.9" cy="628.3" r="2.1"/>
<circle cx="365.8" cy="632.7" r="2.1"/>
<circle cx="401.0" cy="631.7" r="2.1"/>
<circle cx="388.4" cy="633.9" r="2.1"/>
<circle cx="386.2" cy="636.7" r="2.1"/>
<circle cx="372.4" cy="637.2" r="2.1"/>
<circle cx="363.6" cy="638.7" r="2.1"/>
<circle cx="351.0" cy="639.7" r="2.1"/>
<circle cx="370.2" cy="642.8" r="2.1"/>
<circle cx="321.0" cy="647.6" r="2.1"/>
<circle cx="319.1" cy="655.0" r="2.1"/>
<circle cx="373.9" cy="649.8" r="2.1"/>
<circle cx="378.8" cy="648.3" r="2.1"/>
<circle cx="395.4" cy="643.9" r="2.1"/>
<circle cx="392.7" cy="648.3" r="2.1"/>
<circle cx="371.7" cy="656.4" r="2.1"/>
<circle cx="453.5" cy="585.3" r="2.1"/>
<circle cx="431.4" cy="589.8" r="2.1"/>
<circle cx="442.5" cy="602.7" r="2.1"/>
<circle cx="414.7" cy="623.9" r="2.1"/>
<circle cx="434.7" cy="623.6" r="2.1"/>
<circle cx="491.0" cy="617.9" r="2.1"/>
<circle cx="472.1" cy="630.1" r="2.1"/>
<circle cx="452.4" cy="656.7" r="2.1"/>
<circle cx="411.7" cy="656.7" r="2.1"/>
<circle cx="93.9" cy="678.8" r="2.1"/>
<circle cx="101.6" cy="679.5" r="2.1"/>
<circle cx="99.9" cy="689.6" r="2.1"/>
<circle cx="78.4" cy="698.9" r="2.1"/>
<circle cx="107.6" cy="708.6" r="2.1"/>
<circle cx="99.6" cy="716.3" r="2.1"/>
<circle cx="108.0" cy="715.8" r="2.1"/>
<circle cx="135.0" cy="661.0" r="2.1"/>
<circle cx="179.9" cy="661.7" r="2.1"/>
<circle cx="190.2" cy="659.5" r="2.1"/>
<circle cx="123.6" cy="663.4" r="2.1"/>
<circle cx="123.6" cy="667.7" r="2.1"/>
<circle cx="127.0" cy="667.7" r="2.1"/>
<circle cx="161.8" cy="665.6" r="2.1"/>
<circle cx="153.2" cy="670.3" r="2.1"/>
<circle cx="156.9" cy="675.5" r="2.1"/>
<circle cx="140.3" cy="678.9" r="2.1"/>
<circle cx="142.4" cy="681.1" r="2.1"/>
<circle cx="118.1" cy="681.1" r="2.1"/>
<circle cx="140.9" cy="683.7" r="2.1"/>
<circle cx="163.1" cy="683.7" r="2.1"/>
<circle cx="166.1" cy="685.4" r="2.1"/>
<circle cx="118.1" cy="688.6" r="2.1"/>
<circle cx="121.3" cy="693.0" r="2.1"/>
<circle cx="161.3" cy="688.9" r="2.1"/>
<circle cx="135.0" cy="691.4" r="2.1"/>
<circle cx="139.1" cy="690.3" r="2.1"/>
<circle cx="140.6" cy="697.3" r="2.1"/>
<circle cx="142.4" cy="698.9" r="2.1"/>
<circle cx="135.4" cy="700.7" r="2.1"/>
<circle cx="199.9" cy="697.3" r="2.1"/>
<circle cx="128.0" cy="702.5" r="2.1"/>
<circle cx="132.4" cy="704.4" r="2.1"/>
<circle cx="139.1" cy="705.1" r="2.1"/>
<circle cx="166.5" cy="704.7" r="2.1"/>
<circle cx="201.3" cy="709.9" r="2.1"/>
<circle cx="151.0" cy="714.0" r="2.1"/>
<circle cx="150.2" cy="721.4" r="2.1"/>
<circle cx="134.4" cy="720.0" r="2.1"/>
<circle cx="162.1" cy="721.9" r="2.1"/>
<circle cx="146.5" cy="738.9" r="2.1"/>
<circle cx="259.9" cy="676.3" r="2.1"/>
<circle cx="215.7" cy="684.4" r="2.1"/>
<circle cx="221.6" cy="688.1" r="2.1"/>
<circle cx="218.1" cy="688.6" r="2.1"/>
<circle cx="211.7" cy="693.0" r="2.1"/>
<circle cx="213.9" cy="694.5" r="2.1"/>
<circle cx="231.7" cy="693.7" r="2.1"/>
<circle cx="245.0" cy="696.6" r="2.1"/>
<circle cx="304.6" cy="686.2" r="2.1"/>
<circle cx="292.4" cy="697.4" r="2.1"/>
<circle cx="237.2" cy="702.2" r="2.1"/>
<circle cx="241.3" cy="705.1" r="2.1"/>
<circle cx="276.4" cy="709.1" r="2.1"/>
<circle cx="253.6" cy="711.4" r="2.1"/>
<circle cx="307.6" cy="708.9" r="2.1"/>
<circle cx="284.6" cy="717.4" r="2.1"/>
<circle cx="303.3" cy="718.8" r="2.1"/>
<circle cx="348.0" cy="659.7" r="2.1"/>
<circle cx="363.6" cy="658.5" r="2.1"/>
<circle cx="323.1" cy="665.9" r="2.1"/>
<circle cx="365.8" cy="662.9" r="2.1"/>
<circle cx="390.5" cy="666.2" r="2.1"/>
<circle cx="397.6" cy="669.6" r="2.1"/>
<circle cx="402.8" cy="668.1" r="2.1"/>
<circle cx="340.9" cy="669.6" r="2.1"/>
<circle cx="338.4" cy="674.5" r="2.1"/>
<circle cx="344.0" cy="673.7" r="2.1"/>
<circle cx="347.7" cy="676.3" r="2.1"/>
<circle cx="321.3" cy="676.0" r="2.1"/>
<circle cx="381.3" cy="670.3" r="2.1"/>
<circle cx="379.9" cy="680.0" r="2.1"/>
<circle cx="351.7" cy="680.0" r="2.1"/>
<circle cx="333.2" cy="683.7" r="2.1"/>
<circle cx="335.4" cy="684.4" r="2.1"/>
<circle cx="348.7" cy="685.9" r="2.1"/>
<circle cx="355.4" cy="690.3" r="2.1"/>
<circle cx="347.3" cy="693.3" r="2.1"/>
<circle cx="332.4" cy="689.6" r="2.1"/>
<circle cx="331.0" cy="694.0" r="2.1"/>
<circle cx="333.2" cy="696.7" r="2.1"/>
<circle cx="323.6" cy="691.8" r="2.1"/>
<circle cx="370.2" cy="689.6" r="2.1"/>
<circle cx="383.6" cy="690.3" r="2.1"/>
<circle cx="374.7" cy="697.7" r="2.1"/>
<circle cx="389.9" cy="698.9" r="2.1"/>
<circle cx="401.6" cy="696.3" r="2.1"/>
<circle cx="379.1" cy="703.7" r="2.1"/>
<circle cx="387.7" cy="704.1" r="2.1"/>
<circle cx="338.7" cy="711.8" r="2.1"/>
<circle cx="370.2" cy="710.3" r="2.1"/>
<circle cx="383.1" cy="710.3" r="2.1"/>
<circle cx="388.0" cy="708.9" r="2.1"/>
<circle cx="364.0" cy="713.3" r="2.1"/>
<circle cx="377.2" cy="713.6" r="2.1"/>
<circle cx="385.8" cy="714.0" r="2.1"/>
<circle cx="396.9" cy="714.0" r="2.1"/>
<circle cx="369.5" cy="717.0" r="2.1"/>
<circle cx="369.2" cy="720.0" r="2.1"/>
<circle cx="392.4" cy="718.0" r="2.1"/>
<circle cx="328.7" cy="719.2" r="2.1"/>
<circle cx="364.3" cy="723.7" r="2.1"/>
<circle cx="387.3" cy="724.0" r="2.1"/>
<circle cx="391.4" cy="725.4" r="2.1"/>
<circle cx="330.2" cy="729.1" r="2.1"/>
<circle cx="369.9" cy="726.6" r="2.1"/>
<circle cx="368.7" cy="732.6" r="2.1"/>
<circle cx="371.4" cy="737.0" r="2.1"/>
<circle cx="346.5" cy="741.1" r="2.1"/>
<circle cx="463.1" cy="678.2" r="2.1"/>
<circle cx="422.5" cy="678.2" r="2.1"/>
<circle cx="411.7" cy="680.0" r="2.1"/>
<circle cx="437.3" cy="680.0" r="2.1"/>
<circle cx="415.4" cy="691.8" r="2.1"/>
<circle cx="433.5" cy="695.5" r="2.1"/>
<circle cx="472.4" cy="700.4" r="2.1"/>
<circle cx="493.6" cy="699.5" r="2.1"/>
<circle cx="426.5" cy="715.8" r="2.1"/>
<circle cx="441.6" cy="732.9" r="2.1"/>
<circle cx="426.2" cy="737.0" r="2.1"/>
<circle cx="438.1" cy="741.7" r="2.1"/>
<circle cx="534.2" cy="668.1" r="2.1"/>
<circle cx="146.2" cy="745.8" r="2.1"/>
<circle cx="164.7" cy="749.1" r="2.1"/>
<circle cx="169.6" cy="746.0" r="2.1"/>
<circle cx="176.9" cy="755.8" r="2.1"/>
<circle cx="159.8" cy="780.9" r="2.1"/>
<circle cx="168.7" cy="780.4" r="2.1"/>
<circle cx="159.1" cy="803.1" r="2.1"/>
<circle cx="164.0" cy="808.0" r="2.1"/>
<circle cx="154.2" cy="823.8" r="2.1"/>
<circle cx="244.7" cy="744.2" r="2.1"/>
<circle cx="286.9" cy="772.4" r="2.1"/>
<circle cx="290.2" cy="772.0" r="2.1"/>
<circle cx="290.2" cy="776.9" r="2.1"/>
<circle cx="305.8" cy="778.2" r="2.1"/>
<circle cx="315.6" cy="770.2" r="2.1"/>
<circle cx="352.4" cy="753.6" r="2.1"/>
<circle cx="342.0" cy="759.3" r="2.1"/>
<circle cx="344.7" cy="763.6" r="2.1"/>
<circle cx="366.4" cy="746.0" r="2.1"/>
<circle cx="399.6" cy="753.8" r="2.1"/>
<circle cx="361.3" cy="759.3" r="2.1"/>
<circle cx="430.7" cy="769.1" r="2.1"/>
<circle cx="414.0" cy="781.6" r="2.1"/>
<circle cx="152.8" cy="855.6" r="2.1"/>
<circle cx="128.5" cy="890.0" r="2.1"/>
<circle cx="377.9" cy="665.9" r="2.1"/>
</g>
<g fill="#f0a3f2" stroke="#7c4f84" stroke-width="0.8">
<circle cx="392.3" cy="558.3" r="2.35"/>
<circle cx="313.9" cy="575.5" r="2.35"/>
<circle cx="464.0" cy="548.4" r="2.35"/>
<circle cx="301.0" cy="590.8" r="2.35"/>
<circle cx="291.7" cy="653.9" r="2.35"/>
<circle cx="256.1" cy="656.7" r="2.35"/>
<circle cx="337.6" cy="585.6" r="2.35"/>
<circle cx="349.5" cy="596.7" r="2.35"/>
<circle cx="335.4" cy="604.3" r="2.35"/>
<circle cx="359.9" cy="604.6" r="2.35"/>
<circle cx="326.1" cy="610.8" r="2.35"/>
<circle cx="393.6" cy="616.1" r="2.35"/>
<circle cx="311.0" cy="621.9" r="2.35"/>
<circle cx="384.7" cy="624.3" r="2.35"/>
<circle cx="356.9" cy="636.7" r="2.35"/>
<circle cx="439.4" cy="632.7" r="2.35"/>
<circle cx="440.6" cy="642.4" r="2.35"/>
<circle cx="440.9" cy="652.7" r="2.35"/>
<circle cx="204.3" cy="727.1" r="2.35"/>
<circle cx="164.3" cy="737.4" r="2.35"/>
<circle cx="284.6" cy="697.0" r="2.35"/>
<circle cx="264.7" cy="712.3" r="2.35"/>
<circle cx="372.0" cy="705.1" r="2.35"/>
<circle cx="361.3" cy="713.3" r="2.35"/>
<circle cx="355.4" cy="718.2" r="2.35"/>
<circle cx="367.0" cy="722.6" r="2.35"/>
<circle cx="402.5" cy="736.3" r="2.35"/>
<circle cx="434.7" cy="685.1" r="2.35"/>
<circle cx="445.0" cy="728.1" r="2.35"/>
<circle cx="364.0" cy="775.8" r="2.35"/>
</g>
<g fill="#20a9e1" stroke="#1c94c6" stroke-width="0.8">
<circle cx="403.5" cy="575.5" r="2.15"/>
<circle cx="74.4" cy="655.7" r="2.15"/>
<circle cx="161.6" cy="641.2" r="2.15"/>
<circle cx="189.6" cy="654.2" r="2.15"/>
<circle cx="268.7" cy="637.2" r="2.15"/>
<circle cx="385.3" cy="629.5" r="2.15"/>
<circle cx="379.9" cy="633.2" r="2.15"/>
<circle cx="379.6" cy="654.7" r="2.15"/>
<circle cx="193.2" cy="698.0" r="2.15"/>
<circle cx="151.7" cy="718.9" r="2.15"/>
<circle cx="374.7" cy="660.0" r="2.15"/>
<circle cx="377.6" cy="685.1" r="2.15"/>
<circle cx="358.7" cy="724.0" r="2.15"/>
<circle cx="133.6" cy="774.2" r="2.15"/>
<circle cx="228.0" cy="801.3" r="2.15"/>
<circle cx="366.2" cy="744.7" r="2.15"/>
<circle cx="440.2" cy="752.7" r="2.15"/>
</g>
<g fill="#2272a9" stroke="#1c5d8c" stroke-width="0.8">
<circle cx="69.8" cy="569.3" r="2.1"/>
<circle cx="188.9" cy="558.1" r="2.1"/>
<circle cx="104.0" cy="587.6" r="2.1"/>
<circle cx="105.0" cy="597.5" r="2.1"/>
<circle cx="122.1" cy="593.8" r="2.1"/>
<circle cx="110.7" cy="596.1" r="2.1"/>
<circle cx="143.1" cy="598.7" r="2.1"/>
<circle cx="169.5" cy="611.3" r="2.1"/>
<circle cx="111.0" cy="625.6" r="2.1"/>
<circle cx="114.2" cy="625.3" r="2.1"/>
<circle cx="116.9" cy="624.6" r="2.1"/>
<circle cx="129.0" cy="639.4" r="2.1"/>
<circle cx="206.5" cy="634.2" r="2.1"/>
<circle cx="167.3" cy="649.0" r="2.1"/>
<circle cx="127.7" cy="655.7" r="2.1"/>
<circle cx="265.3" cy="590.8" r="2.1"/>
<circle cx="275.1" cy="622.1" r="2.1"/>
<circle cx="292.0" cy="648.7" r="2.1"/>
<circle cx="287.0" cy="654.7" r="2.1"/>
<circle cx="268.7" cy="656.4" r="2.1"/>
<circle cx="323.1" cy="583.6" r="2.1"/>
<circle cx="315.4" cy="592.3" r="2.1"/>
<circle cx="319.4" cy="603.6" r="2.1"/>
<circle cx="357.3" cy="604.9" r="2.1"/>
<circle cx="389.2" cy="616.9" r="2.1"/>
<circle cx="329.2" cy="618.2" r="2.1"/>
<circle cx="350.7" cy="625.3" r="2.1"/>
<circle cx="344.3" cy="628.0" r="2.1"/>
<circle cx="350.7" cy="632.3" r="2.1"/>
<circle cx="321.0" cy="638.2" r="2.1"/>
<circle cx="331.4" cy="639.0" r="2.1"/>
<circle cx="367.3" cy="639.4" r="2.1"/>
<circle cx="361.3" cy="644.1" r="2.1"/>
<circle cx="323.3" cy="644.6" r="2.1"/>
<circle cx="367.0" cy="647.6" r="2.1"/>
<circle cx="370.2" cy="650.5" r="2.1"/>
<circle cx="367.3" cy="652.7" r="2.1"/>
<circle cx="436.6" cy="638.2" r="2.1"/>
<circle cx="425.5" cy="652.3" r="2.1"/>
<circle cx="440.9" cy="650.8" r="2.1"/>
<circle cx="529.9" cy="618.8" r="2.1"/>
<circle cx="128.7" cy="660.7" r="2.1"/>
<circle cx="125.8" cy="683.4" r="2.1"/>
<circle cx="157.6" cy="684.4" r="2.1"/>
<circle cx="139.1" cy="693.6" r="2.1"/>
<circle cx="196.6" cy="695.5" r="2.1"/>
<circle cx="242.4" cy="671.1" r="2.1"/>
<circle cx="267.3" cy="689.9" r="2.1"/>
<circle cx="287.7" cy="689.9" r="2.1"/>
<circle cx="222.8" cy="705.4" r="2.1"/>
<circle cx="253.2" cy="705.1" r="2.1"/>
<circle cx="295.9" cy="729.1" r="2.1"/>
<circle cx="377.3" cy="661.1" r="2.1"/>
<circle cx="340.3" cy="664.7" r="2.1"/>
<circle cx="317.6" cy="667.1" r="2.1"/>
<circle cx="369.5" cy="666.3" r="2.1"/>
<circle cx="315.7" cy="676.3" r="2.1"/>
<circle cx="319.1" cy="679.2" r="2.1"/>
<circle cx="375.4" cy="671.1" r="2.1"/>
<circle cx="377.2" cy="676.0" r="2.1"/>
<circle cx="381.8" cy="675.5" r="2.1"/>
<circle cx="337.3" cy="680.4" r="2.1"/>
<circle cx="372.4" cy="684.4" r="2.1"/>
<circle cx="352.1" cy="687.1" r="2.1"/>
<circle cx="346.2" cy="689.9" r="2.1"/>
<circle cx="315.1" cy="691.4" r="2.1"/>
<circle cx="372.1" cy="696.3" r="2.1"/>
<circle cx="405.0" cy="698.2" r="2.1"/>
<circle cx="362.5" cy="707.7" r="2.1"/>
<circle cx="351.0" cy="720.0" r="2.1"/>
<circle cx="366.5" cy="717.7" r="2.1"/>
<circle cx="386.5" cy="718.9" r="2.1"/>
<circle cx="336.1" cy="728.6" r="2.1"/>
<circle cx="362.8" cy="733.3" r="2.1"/>
<circle cx="453.2" cy="663.4" r="2.1"/>
<circle cx="445.5" cy="666.6" r="2.1"/>
<circle cx="454.2" cy="670.0" r="2.1"/>
<circle cx="411.0" cy="677.7" r="2.1"/>
<circle cx="411.7" cy="682.9" r="2.1"/>
<circle cx="434.4" cy="680.4" r="2.1"/>
<circle cx="469.9" cy="687.1" r="2.1"/>
<circle cx="424.3" cy="696.3" r="2.1"/>
<circle cx="440.9" cy="717.3" r="2.1"/>
<circle cx="421.6" cy="725.1" r="2.1"/>
<circle cx="86.2" cy="754.2" r="2.1"/>
<circle cx="344.2" cy="758.2" r="2.1"/>
<circle cx="343.8" cy="770.9" r="2.1"/>
<circle cx="348.4" cy="787.6" r="2.1"/>
<circle cx="356.2" cy="790.9" r="2.1"/>
<circle cx="322.7" cy="823.6" r="2.1"/>
<circle cx="376.2" cy="758.0" r="2.1"/>
<circle cx="366.4" cy="771.3" r="2.1"/>
</g>
<g fill="#5f3fa8" stroke="#55389a" stroke-width="0.8">
<circle cx="83.1" cy="533.4" r="2.1"/>
<circle cx="150.1" cy="561.6" r="2.1"/>
<circle cx="208.4" cy="566.2" r="2.1"/>
<circle cx="298.8" cy="574.3" r="2.1"/>
<circle cx="53.9" cy="603.1" r="2.1"/>
<circle cx="156.6" cy="595.3" r="2.1"/>
<circle cx="162.8" cy="596.9" r="2.1"/>
<circle cx="123.3" cy="599.1" r="2.1"/>
<circle cx="141.0" cy="608.3" r="2.1"/>
<circle cx="160.9" cy="609.0" r="2.1"/>
<circle cx="139.4" cy="618.4" r="2.1"/>
<circle cx="152.9" cy="623.6" r="2.1"/>
<circle cx="197.6" cy="623.1" r="2.1"/>
<circle cx="115.4" cy="639.9" r="2.1"/>
<circle cx="164.3" cy="638.7" r="2.1"/>
<circle cx="201.6" cy="642.4" r="2.1"/>
<circle cx="207.0" cy="635.7" r="2.1"/>
<circle cx="130.7" cy="652.4" r="2.1"/>
<circle cx="162.5" cy="651.3" r="2.1"/>
<circle cx="146.2" cy="656.4" r="2.1"/>
<circle cx="207.6" cy="651.3" r="2.1"/>
<circle cx="289.5" cy="589.5" r="2.1"/>
<circle cx="299.9" cy="613.2" r="2.1"/>
<circle cx="290.7" cy="620.6" r="2.1"/>
<circle cx="267.7" cy="641.6" r="2.1"/>
<circle cx="280.1" cy="655.7" r="2.1"/>
<circle cx="357.9" cy="597.6" r="2.1"/>
<circle cx="365.8" cy="606.5" r="2.1"/>
<circle cx="383.1" cy="606.1" r="2.1"/>
<circle cx="362.5" cy="627.9" r="2.1"/>
<circle cx="328.3" cy="632.3" r="2.1"/>
<circle cx="368.3" cy="631.7" r="2.1"/>
<circle cx="329.2" cy="636.7" r="2.1"/>
<circle cx="369.2" cy="637.2" r="2.1"/>
<circle cx="367.0" cy="642.8" r="2.1"/>
<circle cx="339.1" cy="648.3" r="2.1"/>
<circle cx="326.2" cy="651.6" r="2.1"/>
<circle cx="347.7" cy="652.7" r="2.1"/>
<circle cx="425.0" cy="620.6" r="2.1"/>
<circle cx="475.4" cy="619.4" r="2.1"/>
<circle cx="436.1" cy="633.0" r="2.1"/>
<circle cx="441.8" cy="632.3" r="2.1"/>
<circle cx="417.2" cy="640.4" r="2.1"/>
<circle cx="421.8" cy="643.1" r="2.1"/>
<circle cx="87.0" cy="694.0" r="2.1"/>
<circle cx="98.7" cy="712.3" r="2.1"/>
<circle cx="162.1" cy="669.6" r="2.1"/>
<circle cx="149.9" cy="672.3" r="2.1"/>
<circle cx="124.6" cy="673.0" r="2.1"/>
<circle cx="136.9" cy="703.4" r="2.1"/>
<circle cx="157.3" cy="704.4" r="2.1"/>
<circle cx="178.8" cy="704.7" r="2.1"/>
<circle cx="182.1" cy="709.1" r="2.1"/>
<circle cx="167.0" cy="720.7" r="2.1"/>
<circle cx="168.4" cy="732.1" r="2.1"/>
<circle cx="218.4" cy="662.6" r="2.1"/>
<circle cx="264.7" cy="678.8" r="2.1"/>
<circle cx="218.4" cy="683.7" r="2.1"/>
<circle cx="289.0" cy="704.1" r="2.1"/>
<circle cx="241.3" cy="717.7" r="2.1"/>
<circle cx="233.5" cy="721.0" r="2.1"/>
<circle cx="303.6" cy="715.8" r="2.1"/>
<circle cx="311.7" cy="662.6" r="2.1"/>
<circle cx="396.9" cy="662.2" r="2.1"/>
<circle cx="406.1" cy="663.7" r="2.1"/>
<circle cx="379.4" cy="671.1" r="2.1"/>
<circle cx="373.2" cy="676.3" r="2.1"/>
<circle cx="377.6" cy="680.7" r="2.1"/>
<circle cx="356.1" cy="682.9" r="2.1"/>
<circle cx="361.3" cy="681.9" r="2.1"/>
<circle cx="339.1" cy="679.2" r="2.1"/>
<circle cx="374.7" cy="685.9" r="2.1"/>
<circle cx="380.1" cy="684.9" r="2.1"/>
<circle cx="346.8" cy="691.8" r="2.1"/>
<circle cx="338.7" cy="698.5" r="2.1"/>
<circle cx="375.1" cy="691.1" r="2.1"/>
<circle cx="357.6" cy="714.0" r="2.1"/>
<circle cx="391.0" cy="713.3" r="2.1"/>
<circle cx="351.4" cy="717.0" r="2.1"/>
<circle cx="314.7" cy="729.1" r="2.1"/>
<circle cx="333.6" cy="725.6" r="2.1"/>
<circle cx="438.7" cy="670.0" r="2.1"/>
<circle cx="448.3" cy="671.1" r="2.1"/>
<circle cx="415.4" cy="670.3" r="2.1"/>
<circle cx="421.3" cy="676.3" r="2.1"/>
<circle cx="412.4" cy="687.7" r="2.1"/>
<circle cx="493.6" cy="685.9" r="2.1"/>
<circle cx="442.5" cy="721.7" r="2.1"/>
<circle cx="98.4" cy="748.0" r="2.1"/>
<circle cx="284.7" cy="759.8" r="2.1"/>
<circle cx="268.7" cy="774.2" r="2.1"/>
<circle cx="338.9" cy="779.8" r="2.1"/>
<circle cx="408.0" cy="752.7" r="2.1"/>
<circle cx="368.0" cy="764.7" r="2.1"/>
<circle cx="371.8" cy="766.4" r="2.1"/>
<circle cx="380.7" cy="772.0" r="2.1"/>
<circle cx="431.6" cy="785.3" r="2.1"/>
</g>
<g>
<rect x="294.4" y="663.9" width="12" height="12" fill="#ffff00" stroke="#d8b400" stroke-width="0.8"/>
<rect x="265.9" y="658.4" width="12" height="12" fill="#44e044"/>
<rect x="280.0" y="661.2" width="12" height="12" fill="#e8102a"/>
<rect x="349.7" y="650.5" width="12" height="12" fill="#ff99ff" stroke="#c080d0" stroke-width="0.8"/>
<rect x="287.2" y="676.8" width="11.5" height="11.5" fill="#1eb1f0"/>
<rect x="299.1" y="659.4" width="11.6" height="11.6" fill="#0f70c0"/>
<rect x="281.1" y="662.3" width="11.6" height="11.6" fill="#7030a0" stroke="#b070c0" stroke-width="0.8"/>
</g>
<rect x="8.5" y="466.5" width="562.5" height="428.5" fill="none" stroke="#5c5c5c" stroke-width="1.15"/>
<g class="tk"><text x="8.5" y="681.7" text-anchor="middle">-2.5</text>
<text x="64.8" y="681.7" text-anchor="middle">-2</text>
<text x="121.0" y="681.7" text-anchor="middle">-1.5</text>
<text x="177.2" y="681.7" text-anchor="middle">-1</text>
<text x="233.5" y="681.7" text-anchor="middle">-0.5</text>
<text x="289.8" y="681.7" text-anchor="middle">0</text>
<text x="346.0" y="681.7" text-anchor="middle">0.5</text>
<text x="402.2" y="681.7" text-anchor="middle">1</text>
<text x="458.5" y="681.7" text-anchor="middle">1.5</text>
<text x="514.8" y="681.7" text-anchor="middle">2</text>
<text x="571.0" y="681.7" text-anchor="middle">2.5</text>
<text x="280.8" y="469.2" text-anchor="end">3.5</text>
<text x="280.8" y="497.8" text-anchor="end">3</text>
<text x="280.8" y="526.3" text-anchor="end">2.5</text>
<text x="280.8" y="554.9" text-anchor="end">2</text>
<text x="280.8" y="583.5" text-anchor="end">1.5</text>
<text x="280.8" y="612.0" text-anchor="end">1</text>
<text x="280.8" y="640.6" text-anchor="end">0.5</text>
<text x="280.8" y="669.2" text-anchor="end">0</text>
<text x="280.8" y="697.7" text-anchor="end">-0.5</text>
<text x="280.8" y="726.3" text-anchor="end">-1</text>
<text x="280.8" y="754.9" text-anchor="end">-1.5</text>
<text x="280.8" y="783.4" text-anchor="end">-2</text>
<text x="280.8" y="812.0" text-anchor="end">-2.5</text>
<text x="280.8" y="840.6" text-anchor="end">-3</text>
<text x="280.8" y="869.1" text-anchor="end">-3.5</text>
<text x="280.8" y="897.7" text-anchor="end">-4</text></g>
</g>
<g class="lg" id="legend-b">
<rect x="587.5" y="561.5" width="86" height="238.5" fill="#fff" stroke="#5c5c5c" stroke-width="1"/>
<circle cx="594.6" cy="570.1" r="2.35" fill="#f4f43c" stroke="#5e5e1e" stroke-width="0.8"/>
<text x="599.7" y="573.2">Aragon</text>
<circle cx="594.6" cy="587.1" r="2.35" fill="#5fd761" stroke="#2c742e" stroke-width="0.8"/>
<text x="599.7" y="590.2">Basque</text>
<circle cx="594.6" cy="604.1" r="2.1" fill="#d4200f" stroke="#b41a0c" stroke-width="0.8"/>
<text x="599.7" y="607.2">Catalonia</text>
<circle cx="594.6" cy="621.2" r="2.35" fill="#f0a3f2" stroke="#7c4f84" stroke-width="0.8"/>
<text x="599.7" y="624.3">France</text>
<circle cx="594.6" cy="638.2" r="2.15" fill="#20a9e1" stroke="#1c94c6" stroke-width="0.8"/>
<text x="599.7" y="641.3">Mallorca</text>
<circle cx="594.6" cy="655.2" r="2.1" fill="#2272a9" stroke="#1c5d8c" stroke-width="0.8"/>
<text x="599.7" y="658.3">NC Spain</text>
<circle cx="594.6" cy="672.2" r="2.1" fill="#5f3fa8" stroke="#55389a" stroke-width="0.8"/>
<text x="599.7" y="675.3">València</text>
<rect x="591.9" y="686.2" width="6" height="6" fill="#ffff00" stroke="#d8b400" stroke-width="0.8"/>
<text x="599.7" y="692.3">Aragon centroid</text>
<rect x="591.9" y="703.3" width="6" height="6" fill="#44e044"/>
<text x="599.7" y="709.4">Basque centroid</text>
<rect x="591.9" y="720.3" width="6" height="6" fill="#e8102a"/>
<text x="599.7" y="726.4">Catalonia centroid</text>
<rect x="591.9" y="737.3" width="6" height="6" fill="#ff99ff" stroke="#c080d0" stroke-width="0.8"/>
<text x="599.7" y="743.4">France centoid</text>
<rect x="591.9" y="754.3" width="6" height="6" fill="#1eb1f0"/>
<text x="599.7" y="760.4">Mallorca centroid</text>
<rect x="591.9" y="771.3" width="6" height="6" fill="#0f70c0"/>
<text x="599.7" y="777.4">NC Spain centroid</text>
<rect x="591.9" y="788.4" width="6" height="6" fill="#7030a0"/>
<text x="599.7" y="794.5">Valencia centroid</text>
</g>
<text class="big" x="644.6" y="912" textLength="18" lengthAdjust="spacingAndGlyphs">b)</text>
</svg>
</body></html>
